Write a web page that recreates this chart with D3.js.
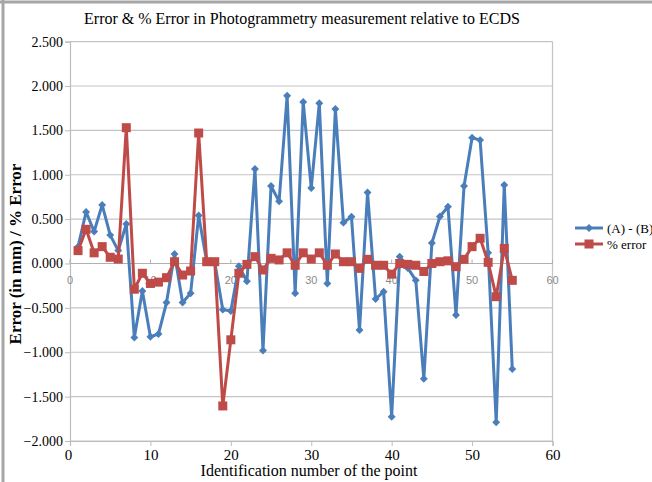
<!DOCTYPE html>
<html>
<head>
<meta charset="utf-8">
<script src="https://cdn.jsdelivr.net/npm/d3@7"></script>
<style>
  body { margin: 0; background: #fff; }
  svg { display: block; }
  text { font-family: "Liberation Serif", "DejaVu Serif", serif; }
</style>
</head>
<body>
<div id="chart"></div>
<script>
// point ids on the x axis
var pointIds = [1,2,3,4,5,6,7,8,9,10,11,12,13,14,15,16,17,18,19,20,21,22,23,24,25,26,27,28,29,30,
  31,32,33,34,35,36,37,38,39,40,41,42,43,44,45,46,47,48,49,50,51,52,53,54,55];

// (A) - (B) error in mm
var errorAB = [0.19,0.58,0.36,0.66,0.32,0.145,0.445,-0.835,-0.31,-0.825,-0.795,-0.44,0.107,-0.44,-0.336,
  0.54,0.02,0.01,-0.52,-0.535,-0.03,-0.2,1.065,-0.98,0.873,0.70,1.89,-0.336,1.82,0.85,
  1.805,-0.225,1.74,0.46,0.527,-0.75,0.80,-0.40,-0.318,-1.726,0.077,-0.05,-0.19,-1.30,0.23,
  0.53,0.64,-0.58,0.873,1.418,1.39,0.12,-1.79,0.885,-1.19];

// % error
var pctError = [0.145,0.385,0.12,0.19,0.07,0.05,1.53,-0.29,-0.11,-0.225,-0.21,-0.16,0.02,-0.13,-0.085,
  1.47,0.02,0.02,-1.605,-0.86,-0.11,-0.01,0.077,-0.073,0.058,0.04,0.12,-0.02,0.12,0.05,
  0.12,-0.02,0.107,0.02,0.02,-0.055,0.047,-0.02,-0.02,-0.12,0.0,-0.01,-0.02,-0.09,0.0,
  0.02,0.03,-0.036,0.047,0.19,0.284,0.013,-0.374,0.17,-0.19];

var yTicks = [-2, -1.5, -1, -0.5, 0, 0.5, 1, 1.5, 2, 2.5];
var xTicks = [0, 10, 20, 30, 40, 50, 60];

var seriesNames = ["(A) - (B)", "% error"];
var blue = "#4a7ebb", red = "#be4b48";

var width = 652, height = 482;

var svg = d3.select("#chart").append("svg")
    .attr("width", width)
    .attr("height", height);

// outer frame of the picture
svg.append("line").attr("x1", 3).attr("x2", 3).attr("y1", 0).attr("y2", height)
  .style("stroke", "#a6a6a6").style("stroke-width", 3);
svg.append("line").attr("x1", 0).attr("x2", width).attr("y1", 2).attr("y2", 2)
  .style("stroke", "#a6a6a6").style("stroke-width", 3);

var x = d3.scaleLinear().domain([0, 60]).range([70, 552.5]);
var y = d3.scaleLinear().domain([-2, 2.5]).range([441, 41.6]);

// gridlines
svg.append("g")
  .selectAll("line")
  .data(yTicks)
  .enter().append("line")
    .attr("x1", x(0)).attr("x2", x(60))
    .attr("y1", function(d) { return y(d); })
    .attr("y2", function(d) { return y(d); })
    .style("stroke", "#c4c4c4")
    .style("stroke-width", 1.2);

// right border of plot
svg.append("line")
  .attr("x1", x(60)).attr("x2", x(60)).attr("y1", y(2.5)).attr("y2", y(-2))
  .style("stroke", "#c4c4c4").style("stroke-width", 1.2);

// left axis
var yAxis = d3.axisLeft(y).tickValues(yTicks).tickSize(5).tickFormat(d3.format(".3f"));
var gy = svg.append("g").attr("transform", "translate(" + x(0) + ",0)").call(yAxis);
gy.select(".domain").style("stroke", "#bdbdbd").style("stroke-width", 1.2);
gy.selectAll(".tick line").style("stroke", "#bdbdbd");
gy.selectAll("text")
  .attr("x", -7)
  .style("font-family", "Liberation Serif, serif")
  .style("font-size", "14px")
  .style("fill", "#000");

// bottom axis
var xAxis = d3.axisBottom(x).tickValues(xTicks).tickSize(5).tickFormat(d3.format("d"));
var gx = svg.append("g").attr("transform", "translate(0," + y(-2) + ")").call(xAxis);
gx.select(".domain").style("stroke", "#bdbdbd").style("stroke-width", 1.2);
gx.selectAll(".tick line").style("stroke", "#bdbdbd");
gx.selectAll("text")
  .attr("y", 8)
  .attr("dx", function(d) { return d === 0 ? -2 : 0; })
  .style("font-family", "Liberation Serif, serif")
  .style("font-size", "15px")
  .style("fill", "#000");

// small inner axis at zero
svg.append("line")
  .attr("x1", x(0)).attr("x2", x(60)).attr("y1", y(0)).attr("y2", y(0))
  .style("stroke", "#b0b0b0").style("stroke-width", 1.2);
var inner = svg.append("g");
inner.selectAll("line")
  .data(xTicks)
  .enter().append("line")
    .attr("x1", function(d) { return x(d); })
    .attr("x2", function(d) { return x(d); })
    .attr("y1", y(0)).attr("y2", y(0) - 4)
    .style("stroke", "#b0b0b0");
inner.selectAll("text")
  .data(xTicks)
  .enter().append("text")
    .attr("x", function(d) { return x(d); })
    .attr("y", y(0) + 21)
    .attr("text-anchor", "middle")
    .style("font-family", "Liberation Sans, sans-serif")
    .style("font-size", "11px")
    .style("fill", "#8a8a8a")
    .text(function(d) { return d; });

// lines
var line = d3.line()
  .x(function(d) { return x(d[0]); })
  .y(function(d) { return y(d[1]); });

var blueData = pointIds.map(function(d, i) { return [d, errorAB[i]]; });
var redData = pointIds.map(function(d, i) { return [d, pctError[i]]; });

svg.append("path").datum(blueData)
  .attr("d", line)
  .style("fill", "none").style("stroke", blue).style("stroke-width", 3)
  .style("stroke-linejoin", "round");

svg.append("g").selectAll("path")
  .data(blueData)
  .enter().append("path")
    .attr("d", d3.symbol().type(d3.symbolDiamond2).size(40))
    .attr("transform", function(d) { return "translate(" + x(d[0]) + "," + y(d[1]) + ")"; })
    .style("fill", blue);

svg.append("path").datum(redData)
  .attr("d", line)
  .style("fill", "none").style("stroke", red).style("stroke-width", 3)
  .style("stroke-linejoin", "round");

svg.append("g").selectAll("rect")
  .data(redData)
  .enter().append("rect")
    .attr("x", function(d) { return x(d[0]) - 4.5; })
    .attr("y", function(d) { return y(d[1]) - 4.5; })
    .attr("width", 9).attr("height", 9)
    .style("fill", red);

// legend
var legend = svg.append("g").attr("transform", "translate(575,228)");
[blue, red].forEach(function(c, i) {
  var g = legend.append("g").attr("transform", "translate(0," + (i * 16) + ")");
  g.append("line").attr("x1", 0).attr("x2", 28).attr("y1", 0).attr("y2", 0)
    .style("stroke", c).style("stroke-width", 3);
  if (i === 0) {
    g.append("path").attr("d", d3.symbol().type(d3.symbolDiamond2).size(40))
      .attr("transform", "translate(14,0)").style("fill", c);
  } else {
    g.append("rect").attr("x", 9.5).attr("y", -4.5).attr("width", 9).attr("height", 9)
      .style("fill", c);
  }
  g.append("text").attr("x", 32).attr("y", 5)
    .style("font-size", "13px")
    .text(seriesNames[i]);
});

// titles
svg.append("text")
  .attr("x", 302).attr("y", 24)
  .attr("text-anchor", "middle")
  .style("font-size", "16px")
  .text("Error & % Error in Photogrammetry measurement relative to ECDS");

svg.append("text")
  .attr("x", 309).attr("y", 476)
  .attr("text-anchor", "middle")
  .style("font-size", "16px")
  .text("Identification number of the point");

svg.append("text")
  .attr("transform", "translate(21,254) rotate(-90)")
  .attr("text-anchor", "middle")
  .style("font-size", "17px")
  .style("font-weight", "bold")
  .text("Error (in mm) / % Error");
</script>
</body>
</html>
